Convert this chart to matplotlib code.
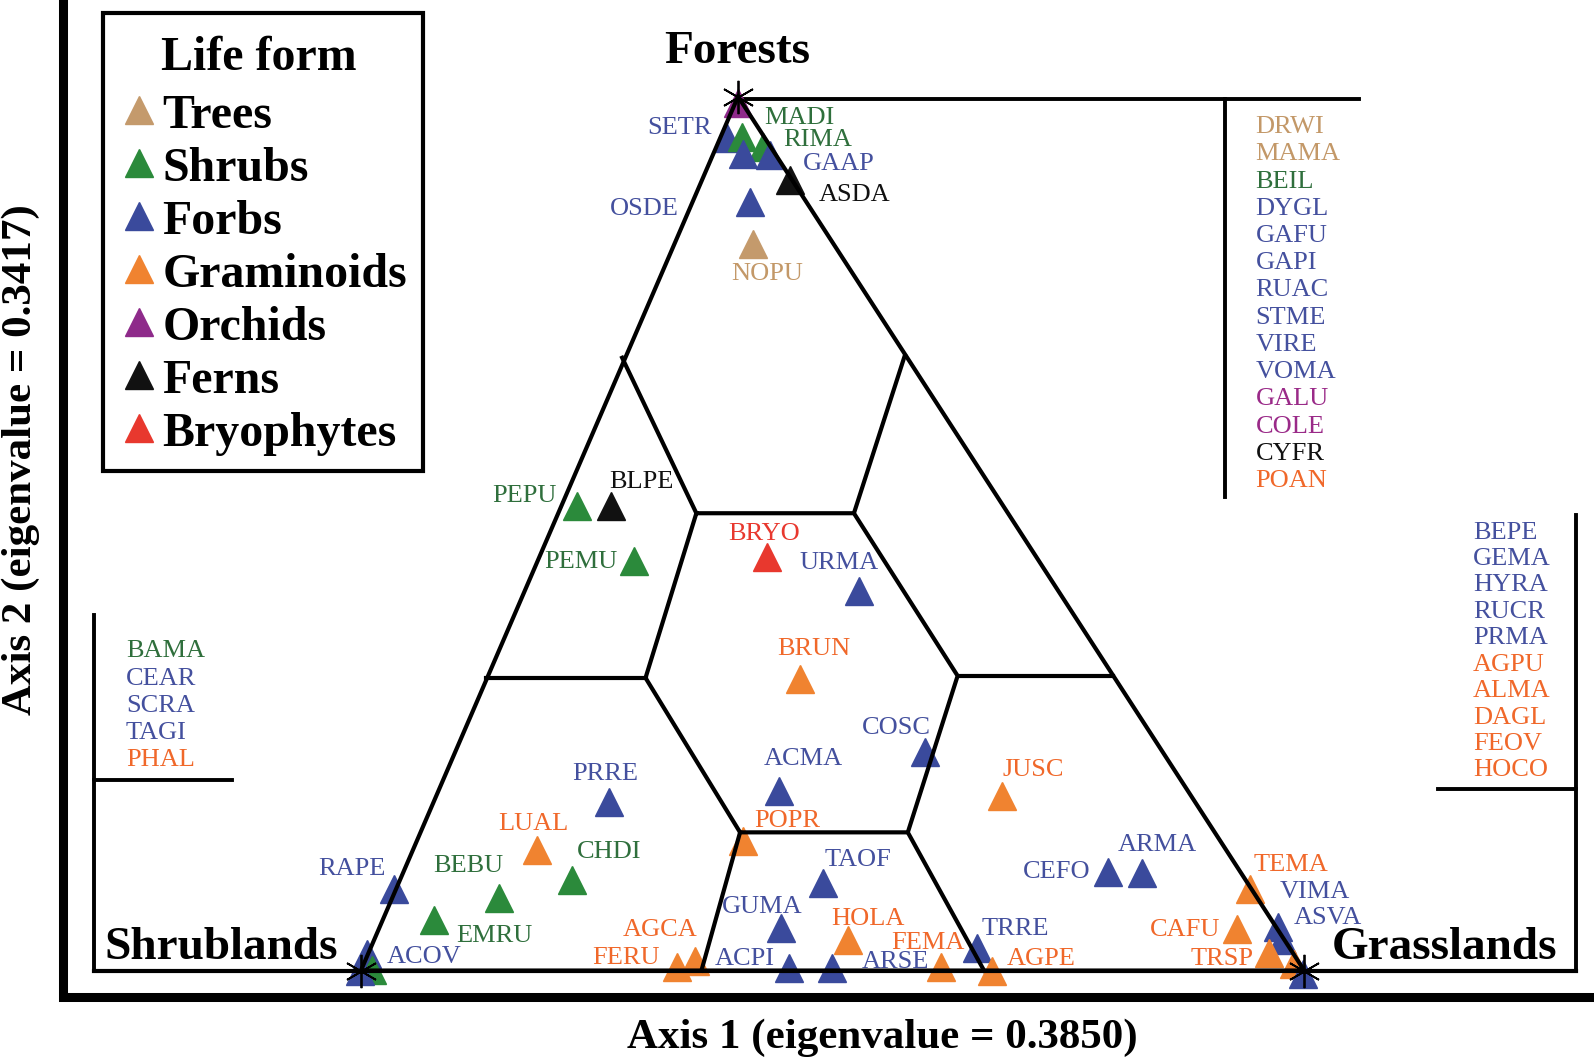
import matplotlib
matplotlib.use("Agg")
import matplotlib.pyplot as plt
from matplotlib.patches import Rectangle

plt.rcParams['font.family'] = ['Liberation Serif', 'DejaVu Serif']

# ── life forms ─────────────────────────────────────────────
forms = ["Trees", "Shrubs", "Forbs", "Graminoids", "Orchids", "Ferns", "Bryophytes"]
mark_col = {"Trees": "#c49a6c", "Shrubs": "#2b8a3b", "Forbs": "#3a4a9c",
            "Graminoids": "#f08330", "Orchids": "#8e2a8a", "Ferns": "#111111",
            "Bryophytes": "#e8382e"}
text_col = {"Trees": "#c39868", "Shrubs": "#2f6f3c", "Forbs": "#44509e",
            "Graminoids": "#f0682a", "Orchids": "#9a2a88", "Ferns": "#111111",
            "Bryophytes": "#e8382e"}

# ── species scores (diagram units) ─────────────────────────
codes = ["", "SETR", "MADI", "RIMA", "", "GAAP", "ASDA", "OSDE", "NOPU",
         "PEPU", "BLPE", "PEMU", "BRYO", "URMA", "BRUN", "COSC", "ACMA", "POPR", "JUSC",
         "PRRE", "LUAL", "CHDI", "BEBU", "RAPE", "EMRU", "ACOV", "", "",
         "FERU", "AGCA", "TAOF", "GUMA", "HOLA", "ACPI", "ARSE", "FEMA", "TRRE", "AGPE",
         "CEFO", "ARMA", "TEMA", "VIMA", "ASVA", "CAFU", "TRSP", "", ""]
life = ["Orchids", "Forbs", "Shrubs", "Shrubs", "Forbs", "Forbs", "Ferns", "Forbs", "Trees",
        "Shrubs", "Ferns", "Shrubs", "Bryophytes", "Forbs", "Graminoids", "Forbs", "Forbs",
        "Graminoids", "Graminoids",
        "Forbs", "Graminoids", "Shrubs", "Shrubs", "Forbs", "Shrubs", "Forbs", "Shrubs", "Forbs",
        "Graminoids", "Graminoids", "Forbs", "Forbs", "Graminoids", "Forbs", "Forbs",
        "Graminoids", "Forbs", "Graminoids",
        "Forbs", "Forbs", "Graminoids", "Forbs", "Forbs", "Graminoids", "Graminoids",
        "Graminoids", "Forbs"]
sx = [726, 715, 730, 751, 731, 757, 777, 738, 741,
      568, 601, 624, 754, 845, 787, 910, 766, 731, 986,
      599, 528, 563, 491, 388, 427, 361, 366, 354,
      666, 684, 810, 768, 834, 776, 818, 926, 961, 976,
      1090, 1123, 1230, 1257, 1261, 1217, 1248, 1273, 1282]
sy = [101, 136, 135, 145, 152, 153, 177, 199, 240,
      498, 498, 552, 548, 582, 668, 740, 778, 828, 783,
      789, 836, 866, 884, 875, 905, 939, 954, 955,
      951, 946, 869, 913, 925, 952, 952, 951, 933, 955,
      858, 859, 875, 912, 925, 914, 938, 949, 958]
# label anchors
lx = [0, 700, 752, 770, 727, 790, 805, 668, 755,
      548, 599, 607, 752, 825, 801, 882, 790, 742, 1016,
      595, 525, 567, 461, 379, 486, 380, 0, 0,
      649, 649, 844, 750, 854, 762, 848, 913, 966, 990,
      1073, 1138, 1233, 1259, 1273, 1200, 1233, 0, 0]
ly = [0, 123, 113, 135, 179, 158, 189, 203, 267,
      485, 471, 550, 522, 551, 636, 713, 744, 805, 755,
      759, 808, 835, 849, 852, 918, 939, 0, 0,
      940, 912, 843, 889, 901, 941, 944, 925, 911, 941,
      855, 828, 848, 875, 900, 912, 941, 0, 0]
lha = ["", "right", "left", "left", "center", "left", "left", "right", "center",
       "right", "left", "right", "center", "center", "center", "center", "center", "left", "center",
       "center", "center", "left", "center", "right", "center", "left", "", "",
       "right", "center", "center", "center", "center", "right", "left", "center", "left", "left",
       "right", "center", "left", "left", "left", "right", "right", "", ""]
# species placed outside the plotted area
top_list = ["DRWI", "MAMA", "BEIL", "DYGL", "GAFU", "GAPI", "RUAC", "STME", "VIRE", "VOMA",
            "GALU", "COLE", "CYFR", "POAN"]
top_form = ["Trees", "Trees", "Shrubs", "Forbs", "Forbs", "Forbs", "Forbs", "Forbs", "Forbs",
            "Forbs", "Orchids", "Orchids", "Ferns", "Graminoids"]
right_list = ["BEPE", "GEMA", "HYRA", "RUCR", "PRMA", "AGPU", "ALMA", "DAGL", "FEOV", "HOCO"]
right_form = ["Forbs"] * 5 + ["Graminoids"] * 5
left_list = ["BAMA", "CEAR", "SCRA", "TAGI", "PHAL"]
left_form = ["Shrubs", "Forbs", "Forbs", "Forbs", "Graminoids"]

# ── habitat triangle and partitions ─────────────────────────
vert_x = [726, 355, 1283]
vert_y = [95, 955, 955]
vert_names = ["Forests", "Shrublands", "Grasslands"]
hex_x = [685, 840, 942, 893, 728, 635, 685]
hex_y = [505, 505, 665, 819, 819, 667, 505]
spokes = [((612, 352), (685, 505)), ((890, 350), (840, 505)),
          ((478, 667), (635, 667)), ((1095, 665), (942, 665)),
          ((728, 819), (690, 955)), ((893, 819), (968, 955))]

fig = plt.figure(figsize=(15.94, 10.60), dpi=100)
ax = fig.add_axes([0, 0, 1, 1])
ax.set_xlim(0, 1568)
ax.set_ylim(1043, 0)
ax.axis("off")

DY = 3     # text 'center' sits a little high for caps-only labels
LW = 3.0
tri_x = vert_x + [vert_x[0]]
tri_y = vert_y + [vert_y[0]]
ax.plot(tri_x, tri_y, color="black", lw=LW, zorder=4, solid_joinstyle="miter")
ax.plot(hex_x, hex_y, color="black", lw=LW, zorder=4)
for (x0, y0), (x1, y1) in spokes:
    ax.plot([x0, x1], [y0, y1], color="black", lw=LW, zorder=4)

# baseline and brackets for species off the diagram
ax.plot([92, 1550], [955, 955], color="black", lw=LW, zorder=4)
ax.plot([92, 92, 228], [605, 767, 767], color="black", lw=2.8)
ax.plot([92, 92], [767, 955], color="black", lw=2.8)
ax.plot([1415, 1550, 1550], [776, 776, 507], color="black", lw=2.8)
ax.plot([1550, 1550], [776, 955], color="black", lw=2.8)
ax.plot([726, 1337], [97, 97], color="black", lw=2.8)
ax.plot([1205, 1205], [97, 489], color="black", lw=2.8)

# outer frame
ax.plot([62, 62, 1568], [0, 981, 981], color="black", lw=6.5, solid_joinstyle="miter")

# species triangles
for i in range(len(sx)):
    ax.plot(sx[i], sy[i], marker="^", ms=20.5, color=mark_col[life[i]],
            mec=mark_col[life[i]], ls="none", zorder=3)
    if codes[i]:
        ax.text(lx[i], ly[i] + DY, codes[i], ha=lha[i], va="center", fontsize=19,
                color=text_col[life[i]], zorder=5)

# vertices
ax.plot(vert_x, vert_y, marker=(6, 2, 0), ms=24, mew=1.3, color="black",
        ls="none", zorder=6)
ax.text(725, 48 + DY, vert_names[0], ha="center", va="center", fontsize=34, fontweight="bold")
ax.text(218, 930 + DY, vert_names[1], ha="center", va="center", fontsize=34, fontweight="bold")
ax.text(1421, 930 + DY, vert_names[2], ha="center", va="center", fontsize=34, fontweight="bold")

# side lists
for k, (c, f) in enumerate(zip(top_list, top_form)):
    ax.text(1235, 122 + k * 26.8 + DY, c, ha="left", va="center", fontsize=19, color=text_col[f])
for k, (c, f) in enumerate(zip(right_list, right_form)):
    ax.text(1449, 521 + k * 26.0 + DY, c, ha="left", va="center", fontsize=19, color=text_col[f])
for k, (c, f) in enumerate(zip(left_list, left_form)):
    ax.text(124, 638 + k * 26.8 + DY, c, ha="left", va="center", fontsize=19, color=text_col[f])

# legend
ax.add_patch(Rectangle((101, 13), 315, 450, fill=False, lw=3, ec="black", zorder=7))
ax.text(255, 54 + DY, "Life form", ha="center", va="center", fontsize=34.5, fontweight="bold")
for k, f in enumerate(forms):
    yy = 110 + k * 52.2
    ax.plot(137, yy - 2, marker="^", ms=20.5, color=mark_col[f], ls="none")
    ax.text(160, yy + DY + 1, f, ha="left", va="center", fontsize=34.5, fontweight="bold")

# axis titles
ax.text(868, 1018 + DY, "Axis 1 (eigenvalue = 0.3850)", ha="center", va="center",
        fontsize=31, fontweight="bold")
ax.text(20, 452, "Axis 2 (eigenvalue = 0.3417)", ha="center", va="center",
        rotation=90, fontsize=31, fontweight="bold")

fig.savefig("out.png", dpi=100)
